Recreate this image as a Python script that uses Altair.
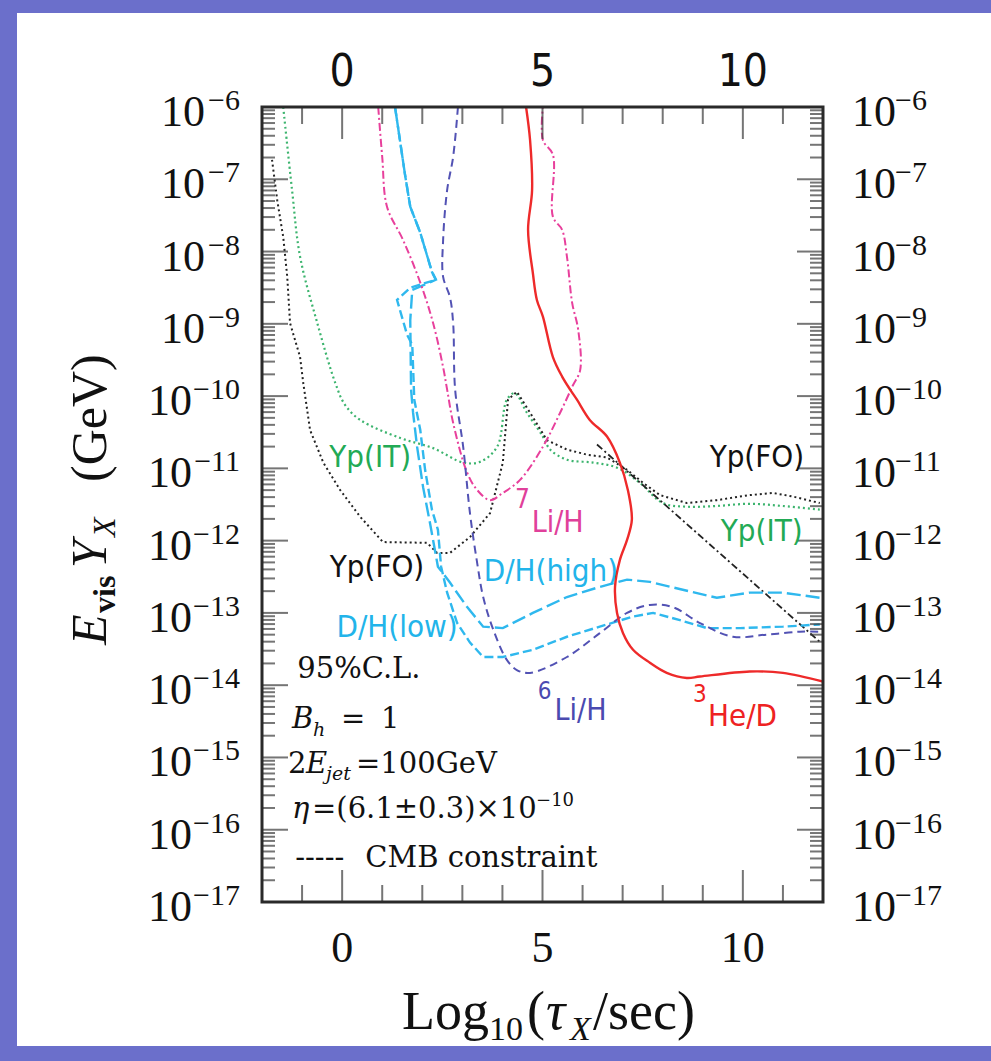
import altair as alt
import pandas as pd

# ---------------- values ----------------
# x = log10(tau_X / sec), e = log10(E_vis Y_X / GeV)
YP_IT_X = [-1.47, -1.25, -1.05, -0.62, -0.17, 0.07, 0.45, 1.45, 2.27, 3.02, 3.44, 3.87, 4.11, 4.31,
           4.61, 5.01, 5.19, 5.61, 6.26, 6.86, 7.43, 8.00, 8.60, 9.35, 10.17, 10.99, 11.92]
YP_IT_E = [-6.00, -7.15, -8.07, -8.99, -9.82, -10.12, -10.33, -10.58, -10.72, -10.92, -10.91, -10.70,
           -10.05, -9.96, -10.23, -10.56, -10.74, -10.88, -10.92, -10.99, -11.20, -11.48, -11.53,
           -11.52, -11.49, -11.52, -11.57]

YP_FO_X = [-1.75, -1.62, -1.47, -1.37, -1.30, -1.05, -0.97, -0.80, -0.47, -0.05, 0.45, 1.02, 2.12,
           2.37, 2.69, 3.19, 3.69, 4.01, 4.14, 4.36, 4.69, 5.11, 5.61, 6.11, 6.61, 7.11, 7.51, 7.93,
           8.60, 9.35, 10.17, 10.75, 11.25, 11.92]
YP_FO_E = [-6.73, -7.29, -7.80, -8.35, -8.99, -9.46, -9.82, -10.47, -10.92, -11.30, -11.67, -12.02,
           -12.03, -12.17, -12.17, -11.95, -11.62, -10.92, -10.05, -9.94, -10.23, -10.61, -10.74,
           -10.81, -10.85, -11.02, -11.20, -11.37, -11.48, -11.44, -11.37, -11.34, -11.39, -11.48]

CMB_X = [6.36, 11.92]
CMB_E = [-10.67, -13.40]

DH_HIGH_X = [1.32, 1.57, 1.70, 1.95, 2.24, 2.34, 1.75, 1.70, 1.72, 1.77, 1.87, 2.02, 2.19, 2.39,
             2.69, 3.12, 3.52, 4.01, 4.76, 5.61, 6.43, 7.11, 7.68, 8.50, 9.35, 10.17, 11.00, 11.92]
DH_HIGH_E = [-6.00, -6.94, -7.38, -7.74, -8.28, -8.39, -8.53, -8.95, -9.91, -10.23, -10.70, -11.26,
             -11.75, -12.36, -12.58, -12.92, -13.19, -13.21, -13.00, -12.78, -12.64, -12.54, -12.57,
             -12.68, -12.79, -12.72, -12.72, -12.79]

DH_LOW_X = [1.32, 1.57, 1.70, 1.95, 2.24, 2.34, 1.70, 1.37, 1.62, 1.75, 1.80, 1.95, 2.07, 2.24, 2.39,
            2.47, 2.62, 2.87, 3.19, 3.52, 4.01, 4.76, 5.61, 6.43, 7.26, 7.76, 8.43, 9.10, 9.93,
            11.00, 11.92]
DH_LOW_E = [-6.00, -6.94, -7.38, -7.74, -8.28, -8.39, -8.50, -8.67, -9.15, -9.29, -10.05, -10.47,
            -11.02, -11.57, -11.85, -12.36, -12.72, -13.14, -13.41, -13.61, -13.61, -13.51, -13.33,
            -13.19, -13.05, -13.00, -13.10, -13.21, -13.21, -13.19, -13.16]

LI7_X = [0.90, 1.00, 1.12, 1.52, 1.95, 2.27, 2.52, 2.62, 2.77, 3.12, 3.37, 3.69, 4.01, 4.44, 5.01,
         5.44, 5.76, 5.94, 5.89, 5.74, 5.61, 5.49, 5.26, 5.26, 5.01, 5.01]
LI7_E = [-6.00, -6.69, -7.38, -7.84, -8.43, -8.99, -9.60, -9.91, -10.37, -11.06, -11.30, -11.44,
         -11.34, -11.16, -10.70, -10.23, -9.85, -9.64, -9.08, -8.71, -8.07, -7.70, -7.52, -6.66,
         -6.46, -6.00]

LI6_X = [2.89, 2.77, 2.62, 2.52, 2.52, 2.69, 2.77, 2.82, 3.02, 3.19, 3.37, 3.52, 3.77, 4.11, 4.36,
         4.69, 5.61, 6.43, 7.11, 7.68, 8.25, 8.93, 9.75, 10.60, 11.42, 11.92]
LI6_E = [-6.00, -6.69, -7.15, -7.84, -8.35, -8.63, -8.99, -9.91, -10.70, -11.62, -12.31, -12.78,
         -13.23, -13.65, -13.79, -13.83, -13.61, -13.28, -13.00, -12.89, -12.92, -13.14, -13.33,
         -13.30, -13.26, -13.26]

HE3_X = [4.59, 4.69, 4.74, 4.64, 4.76, 4.86, 5.01, 5.26, 5.49, 5.69, 5.86, 6.18, 6.61, 6.93, 7.13,
         7.23, 7.11, 6.93, 6.81, 6.86, 7.01, 7.26, 7.68, 8.10, 8.60, 8.93, 10.17, 11.00, 12.00]
HE3_E = [-6.00, -6.46, -7.15, -7.70, -8.30, -8.67, -8.90, -9.46, -9.73, -9.91, -10.05, -10.33,
         -10.56, -10.92, -11.30, -11.71, -11.99, -12.27, -12.64, -13.00, -13.28, -13.51, -13.69,
         -13.83, -13.90, -13.88, -13.81, -13.83, -13.95]

# tick values and labels
X_MAJOR = [0, 5, 10]
X_MINOR = [-1, 1, 2, 3, 4, 6, 7, 8, 9, 11]
X_LABELS = ["0", "5", "10"]
Y_EXP_LABELS = [-6, -7, -8, -9, -10, -11, -12, -13, -14, -15, -16, -17]
Y_DECADES = [-16, -15, -14, -13, -12, -11, -10, -9, -8, -7]
Y_MINOR_MULT = [2, 3, 4, 5, 6, 7, 8, 9]

# ---------------- styling ----------------
BLUE = "#6b6fcb"
INK = "#111111"
TICK = "#3a3a3a"
GREEN = "#3cb46e"
CYAN = "#2fb8ee"
MAGENTA = "#e8409c"
PURPLE = "#5252b4"
RED = "#ee2a2a"
SERIF = "Liberation Serif"
DJS = "DejaVu Serif"
NARROW = "DejaVu Sans Condensed, Liberation Sans Narrow, Liberation Sans"

XS = alt.Scale(domain=[-2, 12], nice=False, zero=False)
YS = alt.Scale(type="log", domain=[1e-17, 1e-6], nice=False)
ONE = pd.DataFrame({"k": [0]})


def X(field=None, datum=None):
    if datum is not None:
        return alt.X(datum=datum, scale=XS, axis=None)
    return alt.X(field, scale=XS, axis=None)


def Y(field=None, datum=None):
    if datum is not None:
        return alt.Y(datum=datum, scale=YS, axis=None)
    return alt.Y(field, scale=YS, axis=None)


def curve(xs, es, color, width=2.0, dash=None, interp="linear"):
    df = pd.DataFrame({"x": xs, "y": [10.0 ** e for e in es], "i": list(range(len(xs)))})
    kw = dict(color=color, strokeWidth=width, interpolate=interp, clip=True)
    if dash:
        kw["strokeDash"] = dash
    return alt.Chart(df).mark_line(**kw).encode(x=X("x:Q"), y=Y("y:Q"), order=alt.Order("i:Q"))


def txt(text, x, y, size, color=INK, font=SERIF, align="left", baseline="alphabetic",
        dx=0, dy=0, style="normal", weight="normal", angle=0):
    return alt.Chart(ONE).mark_text(text=text, fontSize=size, color=color, font=font, align=align,
                                    baseline=baseline, dx=dx, dy=dy, fontStyle=style,
                                    fontWeight=weight, angle=angle).encode(x=x, y=y)


def xticks(values, side, length):
    df = pd.DataFrame({"v": values})
    yv = 1e-6 if side == "top" else 1e-17
    off = length / 2 if side == "top" else -length / 2
    return alt.Chart(df).mark_tick(orient="vertical", size=length, thickness=2, color=TICK,
                                   yOffset=off).encode(x=X("v:Q"), y=Y(datum=yv))


def yticks(values, side, length):
    df = pd.DataFrame({"v": values})
    xv = -2 if side == "left" else 12
    off = length / 2 if side == "left" else -length / 2
    return alt.Chart(df).mark_tick(orient="horizontal", size=length, thickness=2, color=TICK,
                                   xOffset=off).encode(y=Y("v:Q"), x=X(datum=xv))


def ylabels(exps, x10, xsup, align):
    df = pd.DataFrame({"v": [10.0 ** e for e in exps], "sup": ["\u2212%d" % (-e) for e in exps]})
    a = alt.Chart(df).mark_text(text="10", fontSize=44, font=SERIF, align=align, baseline="alphabetic",
                                dy=19, color=INK).encode(x=alt.value(x10), y=Y("v:Q"))
    b = alt.Chart(df).mark_text(fontSize=30, font=SERIF, align=align, baseline="alphabetic",
                                dy=3, color=INK).encode(x=alt.value(xsup), y=Y("v:Q"), text="sup:N")
    return [a, b]


def xlabels(ypix, font, size):
    df = pd.DataFrame({"v": X_MAJOR, "t": X_LABELS})
    return alt.Chart(df).mark_text(fontSize=size, font=font, align="center", baseline="alphabetic",
                                   color=INK).encode(x=X("v:Q"), y=alt.value(ypix), text="t:N")


layers = []

# white slide panel
layers.append(alt.Chart(ONE).mark_rect(color="white").encode(
    x=alt.value(-245), x2=alt.value(729), y=alt.value(-94), y2=alt.value(939)))

# curves
layers += [
    curve(YP_IT_X, YP_IT_E, GREEN, 2.2, [2, 3], "catmull-rom"),
    curve(YP_FO_X, YP_FO_E, "#222222", 2.0, [2, 3], "linear"),
    curve(CMB_X, CMB_E, "#222222", 1.8, [7, 3, 2, 3]),
    curve(DH_HIGH_X, DH_HIGH_E, CYAN, 2.4, [14, 5], "linear"),
    curve(DH_LOW_X, DH_LOW_E, CYAN, 2.4, [9, 4], "linear"),
    curve(LI7_X, LI7_E, MAGENTA, 2.0, [8, 3, 2, 3], "catmull-rom"),
    curve(LI6_X, LI6_E, PURPLE, 2.0, [8, 5], "catmull-rom"),
    curve(HE3_X, HE3_E, RED, 2.4, None, "catmull-rom"),
]

# ticks (inward)
y_minor = [m * 10.0 ** n for n in range(-17, -6) for m in Y_MINOR_MULT]
y_major = [10.0 ** n for n in Y_DECADES]
layers += [
    xticks(X_MAJOR, "top", 32), xticks(X_MINOR, "top", 17),
    xticks(X_MAJOR, "bottom", 32), xticks(X_MINOR, "bottom", 17),
    yticks(y_major, "left", 26), yticks(y_minor, "left", 13),
    yticks(y_major, "right", 26), yticks(y_minor, "right", 13),
]

# frame
layers.append(alt.Chart(ONE).mark_rect(fillOpacity=0, stroke="#2a2a2a", strokeWidth=3).encode(
    x=X(datum=-2), x2=alt.X2(datum=12), y=Y(datum=1e-6), y2=alt.Y2(datum=1e-17)))

# tick labels
layers += ylabels([e for e in Y_EXP_LABELS if e > -10], -57, -22, "right")
layers += ylabels([e for e in Y_EXP_LABELS if e <= -10], -70, -22, "right")
layers += ylabels(Y_EXP_LABELS, 590, 633, "left")
layers.append(xlabels(-21, NARROW, 44))
layers.append(xlabels(855, SERIF, 44))

# axis titles
TY = 922
layers += [
    txt("Log", alt.value(140), alt.value(TY), 54),
    txt("10", alt.value(227), alt.value(TY + 11), 34),
    txt("(", alt.value(265), alt.value(TY), 54),
    txt("\u03c4", alt.value(284), alt.value(TY), 54, style="italic"),
    txt("X", alt.value(308), alt.value(TY + 11), 34, style="italic"),
    txt("/sec)", alt.value(331), alt.value(TY), 54),
]
BX = -156
layers += [
    txt("E", alt.value(BX), alt.value(538), 50, style="italic", angle=270),
    txt("vis", alt.value(BX + 9), alt.value(506), 32, weight="bold", angle=270),
    txt("Y", alt.value(BX), alt.value(461), 50, style="italic", angle=270),
    txt("X", alt.value(BX + 9), alt.value(430), 32, style="italic", angle=270),
    txt("(GeV)", alt.value(BX), alt.value(375), 50, angle=270),
]

# curve labels
def clab(t, x, y, color, size=31, align="center"):
    return txt(t, X(datum=x), Y(datum=y), size, color=color, font=NARROW, align=align,
               baseline="middle")

layers += [
    clab("Yp(IT)", 0.70, 1.40e-11, "#22aa55"),
    clab("Yp(FO)", 0.87, 4.21e-13, INK),
    clab("7", 4.50, 3.66e-12, "#e0409a", 26),
    clab("Li/H", 4.73, 1.76e-12, "#e0409a", 30, "left"),
    clab("D/H(high)", 5.21, 3.71e-13, "#22b4ea"),
    clab("D/H(low)", 1.37, 6.22e-14, "#22b4ea"),
    clab("6", 5.05, 8.11e-15, "#4a4ab0", 24),
    clab("Li/H", 5.30, 4.43e-15, "#4a4ab0", 30, "left"),
    clab("3", 8.93, 7.36e-15, "#ee2222", 24),
    clab("He/D", 9.13, 3.66e-15, "#ee2222", 31, "left"),
    clab("Yp(FO)", 10.35, 1.40e-11, INK),
    clab("Yp(IT)", 10.47, 1.32e-12, "#22aa55"),
]

# parameter block (lower left)
FS = 29
layers += [
    txt("95%C.L.", X(datum=-1.12), Y(datum=1.26e-14), FS, font=DJS),
    txt("B", X(datum=-1.25), Y(datum=2.58e-15), FS, font=DJS, style="italic"),
    txt("h", X(datum=-1.25), Y(datum=2.58e-15), 19, font=DJS, style="italic", dx=21, dy=8),
    txt("=", X(datum=-1.25), Y(datum=2.58e-15), FS, font=DJS, dx=49),
    txt("1", X(datum=-1.25), Y(datum=2.58e-15), FS, font=DJS, dx=89),
    txt("2", X(datum=-1.35), Y(datum=6.14e-16), FS, font=DJS),
    txt("E", X(datum=-1.35), Y(datum=6.14e-16), FS, font=DJS, style="italic", dx=18),
    txt("jet", X(datum=-1.35), Y(datum=6.14e-16), 19, font=DJS, style="italic", dx=38, dy=7),
    txt("=100GeV", X(datum=-1.35), Y(datum=6.14e-16), FS, font=DJS, dx=68),
    txt("\u03b7", X(datum=-1.25), Y(datum=1.47e-16), FS, font=DJS, style="italic"),
    txt("=(6.1\u00b10.3)\u00d710", X(datum=-1.25), Y(datum=1.47e-16), FS, font=DJS, dx=20),
    txt("\u221210", X(datum=-1.25), Y(datum=1.47e-16), 18, font=DJS, dx=244, dy=-12),
    txt("-----", X(datum=-1.17), Y(datum=3.08e-17), FS, font=DJS),
    txt("CMB constraint", X(datum=-1.17), Y(datum=3.08e-17), FS, font=DJS, dx=70),
]

chart = alt.layer(*layers).properties(
    width=561, height=795,
    padding={"left": 262, "top": 107, "right": 168, "bottom": 159},
    autosize=alt.AutoSizeParams(type="none"),
    background=BLUE,
).configure_view(stroke=None)

chart.save("out.html", embed_options={"renderer": "svg", "actions": False})
